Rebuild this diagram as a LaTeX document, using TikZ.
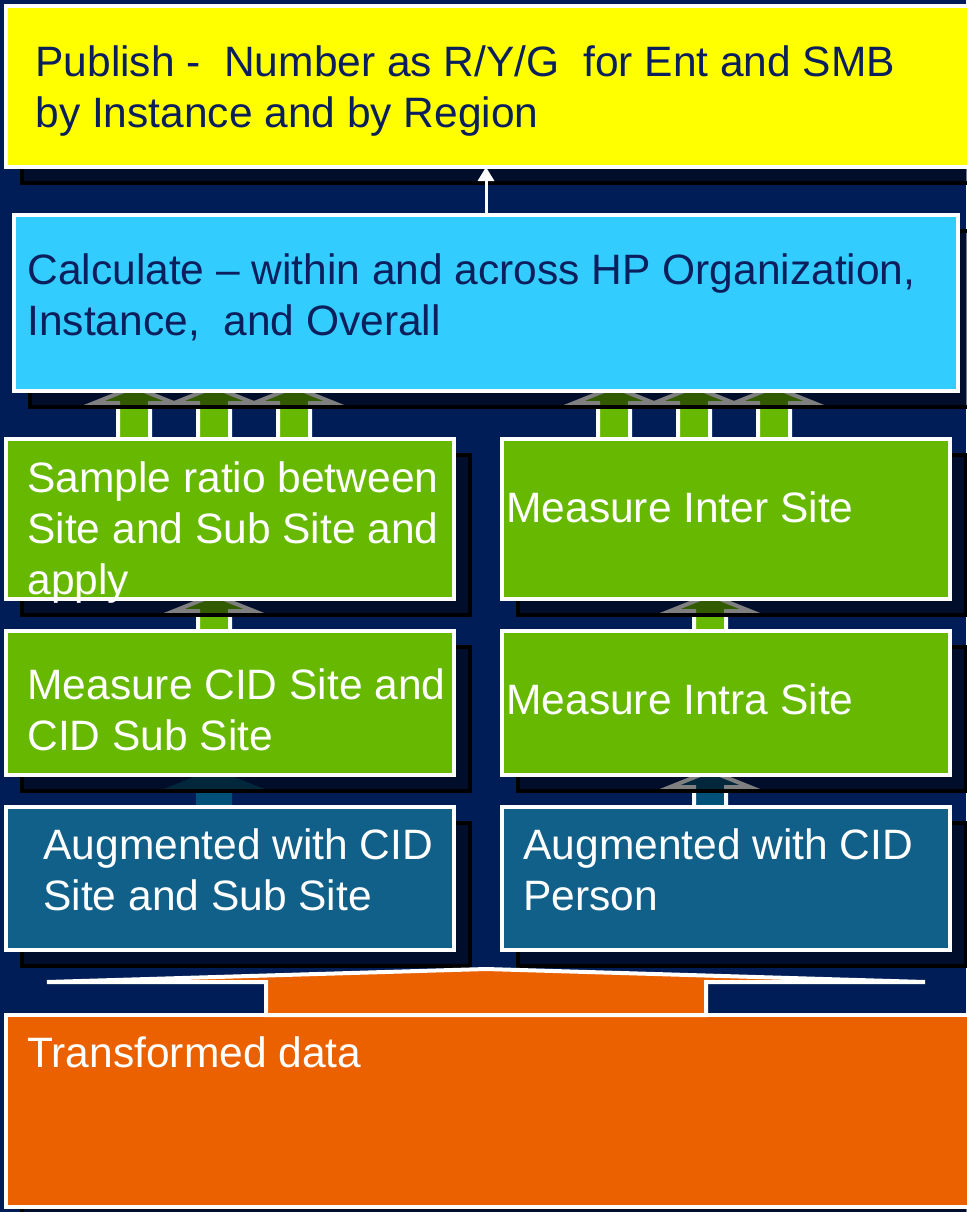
\documentclass[tikz,border=0pt]{standalone}
\usepackage{fontspec}
\setmainfont{Liberation Sans}
\usepackage{xcolor}
\usetikzlibrary{arrows.meta, calc}

\definecolor{navybg}{HTML}{001D57}
\definecolor{navytext}{HTML}{0B1F5C}
\definecolor{pubyellow}{HTML}{FFFF00}
\definecolor{calccyan}{HTML}{33CCFF}
\definecolor{leafgreen}{HTML}{66B800}
\definecolor{augteal}{HTML}{116089}
\definecolor{stemteal}{HTML}{00507A}
\definecolor{dataorange}{HTML}{EB6100}

\pgfdeclarelayer{bglayer}
\pgfdeclarelayer{arrowlayer}
\pgfdeclarelayer{shadowlayer}
\pgfsetlayers{bglayer,arrowlayer,shadowlayer,main}

\begin{document}
\begin{tikzpicture}[x=0.5pt, y=-0.5pt,
  every node/.style={font=\fontsize{21.25}{25.5}\selectfont},
  box/.style={rectangle, draw=white, line width=2pt, inner sep=0pt, outer sep=0pt},
  boxtext/.style={anchor=base west, align=left, inner sep=0pt, text=white},
  boxshadow/.style={draw=black, line width=2pt, fill=black, fill opacity=0.5},
  blockarr/.style={line width=2pt, line join=miter}]
  \useasboundingbox (0,0) rectangle (966,1212);
  \begin{pgfonlayer}{bglayer}
    \fill[navybg] (0,0) rectangle (966,1212);
  \end{pgfonlayer}

  % boxes, top to bottom
  \node[box, fill=pubyellow, minimum width=482pt, minimum height=80.5pt] (publish) at (488,86.5) {};
  \node[box, fill=calccyan, minimum width=472pt, minimum height=88pt] (calc) at (486,303) {};
  \node[box, fill=leafgreen, minimum width=224pt, minimum height=80pt] (sample) at (230,519) {};
  \node[box, fill=leafgreen, minimum width=224pt, minimum height=80pt] (inter) at (726,519) {};
  \node[box, fill=leafgreen, minimum width=224pt, minimum height=72pt] (cid) at (230,703) {};
  \node[box, fill=leafgreen, minimum width=224pt, minimum height=72pt] (intra) at (726,703) {};
  \node[box, fill=augteal, minimum width=224pt, minimum height=71.5pt] (augsite) at (230,878.5) {};
  \node[box, fill=augteal, minimum width=224pt, minimum height=71.5pt] (augperson) at (726,878.5) {};
  \node[box, fill=dataorange, minimum width=482pt, minimum height=96pt] (transformed) at (488,1111) {};

  % drop shadows
  \begin{pgfonlayer}{shadowlayer}
    \foreach \b in {publish, calc, sample, inter, cid, intra, augsite, augperson, transformed}
      \draw[boxshadow] ($(\b.north west)+(16,16)$) rectangle ($(\b.south east)+(16,16)$);
  \end{pgfonlayer}

  % block arrows: x / lower box / upper box / fill / outline
  \begin{pgfonlayer}{arrowlayer}
    \foreach \ax/\lo/\up/\col/\edge in {134/sample/calc/leafgreen/white, 214/sample/calc/leafgreen/white,
        294/sample/calc/leafgreen/white, 614/inter/calc/leafgreen/white, 694/inter/calc/leafgreen/white,
        774/inter/calc/leafgreen/white, 214/cid/sample/leafgreen/white, 710/intra/inter/leafgreen/white,
        214/augsite/cid/stemteal/stemteal, 710/augperson/intra/stemteal/white}
      \draw[blockarr, draw=\edge, fill=\col] ($(\ax,0 |- \lo.north)+(-16,0)$) -- ($(\ax,0 |- \up.south)+(-16,12)$)
        -- ++(-24,0) -- ($(\ax,0 |- \up.south)+(0,-4)$) -- ($(\ax,0 |- \up.south)+(40,12)$)
        -- ++(-24,0) -- ($(\ax,0 |- \lo.north)+(16,0)$) -- cycle;
  \end{pgfonlayer}

  \draw[white, line width=1.5pt, -{Triangle[length=7pt, width=8pt]}] (486,0 |- calc.north) -- (486,0 |- publish.south);

  % transformed data feeding both augmented boxes
  \coordinate (split) at (486,969);
  \draw[fill=dataorange, draw=white, line width=2pt, line join=miter] ($(266,0 |- transformed.north)$) -- (266,982) -- (47,982)
    -- (split) -- (925,982) -- (706,982) -- ($(706,0 |- transformed.north)$) -- cycle;

  % labels (base = baseline of the last line)
  \node[boxtext, text=navytext] (publishtext) at (35,127) {Publish -\ \ Number as R/Y/G\ \ for Ent and SMB\\by Instance and by Region};
  \node[boxtext, text=navytext] (calctext) at (27,335) {Calculate – within and across HP Organization,\\Instance,\ \ and Overall};
  \node[boxtext] (sampletext) at (27,594) {Sample ratio between\\Site and Sub Site and\\apply};
  \node[boxtext] (intertext) at (506,522) {Measure Inter Site};
  \node[boxtext] (cidtext) at (27,750) {Measure CID Site and\\CID Sub Site};
  \node[boxtext] (intratext) at (506,714) {Measure Intra Site};
  \node[boxtext] (augsitetext) at (43,910) {Augmented with CID\\Site and Sub Site};
  \node[boxtext] (augpersontext) at (523,910) {Augmented with CID\\Person};
  \node[boxtext] (transformedtext) at (27,1067) {Transformed data};
\end{tikzpicture}
\end{document}
